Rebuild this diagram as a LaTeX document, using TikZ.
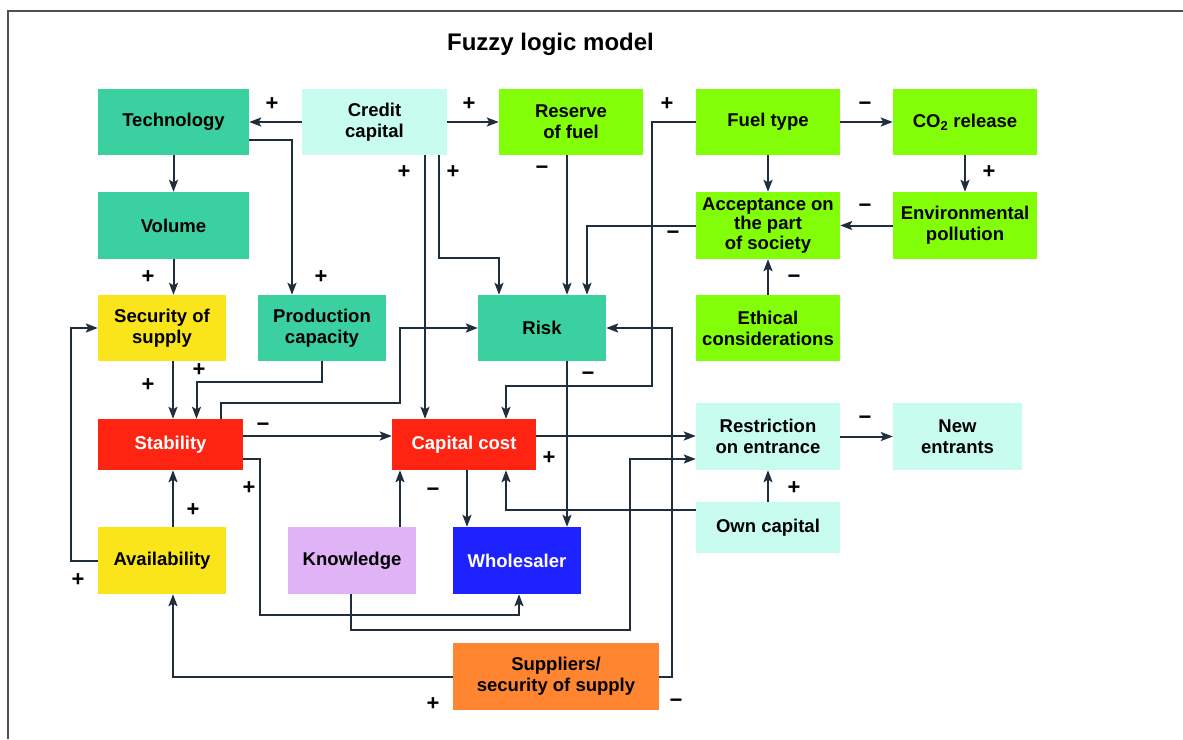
\documentclass[tikz,border=0pt]{standalone}
\usepackage{fontspec}
\setmainfont{Liberation Sans}
\usetikzlibrary{arrows.meta,calc}
\definecolor{cteal}{RGB}{59,208,160}
\definecolor{ccyan}{RGB}{200,252,238}
\definecolor{clime}{RGB}{130,255,8}
\definecolor{cyell}{RGB}{250,228,26}
\definecolor{cred}{RGB}{255,36,18}
\definecolor{clilac}{RGB}{224,179,247}
\definecolor{cblue}{RGB}{30,34,255}
\definecolor{corange}{RGB}{255,133,48}
\definecolor{cline}{RGB}{30,46,61}
\definecolor{cframe}{RGB}{80,80,80}
\newcommand{\boxfont}{\fontsize{18.5}{21}\selectfont\bfseries}
\begin{document}
\begin{tikzpicture}[x=1pt,y=-1pt,
  bx/.style n args={3}{rectangle, fill=#1, minimum width=#2, minimum height=#3,
    inner sep=2pt, align=center, font=\boxfont, text=black},
  wtxt/.style={text=white},
  arr/.style={draw=cline, line width=2pt, -{Stealth[length=12pt,width=9pt,inset=2.5pt]}},
  sgn/.style={font=\fontsize{22}{22}\selectfont\bfseries, inner sep=0pt},
  frame/.style={draw=cframe, line width=1.6pt}]
\useasboundingbox (0,0) rectangle (1183,739);
\draw[frame] (8,739) -- (8,11) -- (1183,11);
\node[font=\fontsize{24}{24}\selectfont\bfseries] (title) at (550.5,44) {Fuzzy logic model};

% nodes
\node[bx={cteal}{151pt}{66pt}] (tech) at (173.5,122) {Technology};
\node[bx={ccyan}{145pt}{66pt}] (credit) at (374.5,122) {Credit\\capital};
\node[bx={clime}{144pt}{66pt}] (reserve) at (571,122) {Reserve\\of fuel};
\node[bx={clime}{144pt}{66pt}] (fuel) at (768,122) {Fuel type};
\node[bx={clime}{144pt}{66pt}] (co2) at (965,122) {CO\textsubscript{2} release};
\node[bx={cteal}{151pt}{67pt}] (volume) at (173.5,225.5) {Volume};
\node[bx={clime}{144pt}{67pt}, font=\fontsize{18.5}{19.5}\selectfont\bfseries] (accept) at (768,225.5) {Acceptance on\\the part\\of society};
\node[bx={clime}{144pt}{67pt}] (env) at (965,225.5) {Environmental\\pollution};
\node[bx={cyell}{128pt}{66pt}] (security) at (162,328) {Security of\\supply};
\node[bx={cteal}{128pt}{66pt}] (prod) at (322,328) {Production\\capacity};
\node[bx={cteal}{128pt}{66pt}] (risk) at (542,328) {Risk};
\node[bx={clime}{144pt}{66pt}] (ethical) at (768,328) {Ethical\\considerations};
\node[bx={cred}{145pt}{51pt}, wtxt] (stability) at (170.5,444.5) {Stability};
\node[bx={cred}{144pt}{51pt}, wtxt] (capcost) at (464,444.5) {Capital cost};
\node[bx={ccyan}{144pt}{67pt}] (restr) at (768,436.5) {Restriction\\on entrance};
\node[bx={ccyan}{129pt}{67pt}] (newent) at (957.5,436.5) {New\\entrants};
\node[bx={ccyan}{144pt}{51pt}] (own) at (768,527.5) {Own capital};
\node[bx={cyell}{128pt}{67pt}] (avail) at (162,560.5) {Availability};
\node[bx={clilac}{128pt}{67pt}] (know) at (352,560.5) {Knowledge};
\node[bx={cblue}{128pt}{67pt}, wtxt] (whole) at (517,560.5) {Wholesaler};
\node[bx={corange}{206pt}{67pt}] (supp) at (556,676.5) {Suppliers/\\security of supply};

% connectors
\draw[arr] (credit.west) -- (tech.east);
\draw[arr] (credit.east) -- (reserve.west);
\draw[arr] (tech.south) -- (volume.north);
\draw[arr] ([yshift=-18pt]tech.east) -| ([xshift=-30pt]prod.north);
\draw[arr] (volume.south) -- (volume.south |- security.north);
\draw[arr] ([xshift=50.5pt]credit.south) -- ([xshift=50.5pt]credit.south |- capcost.north);
\draw[arr] ([xshift=64.5pt]credit.south) -- ++(0,102.5) -| ([xshift=-43pt]risk.north);
\draw[arr] ([xshift=25pt]risk.north |- reserve.south) -- ([xshift=25pt]risk.north);
\draw[arr] (accept.west) -| ([xshift=45pt]risk.north);
\draw[arr] (fuel.west) -- ++(-44,0) -- ++(0,264) -| ([xshift=42pt]capcost.north);
\draw[arr] (fuel.east) -- (co2.west);
\draw[arr] (fuel.south) -- (accept.north);
\draw[arr] (co2.south) -- (env.north);
\draw[arr] (env.west) -- (accept.east);
\draw[arr] (ethical.north) -- (accept.south);
\draw[arr] (supp.east) -- ++(13,0) |- (risk.east);
\draw[arr] ([xshift=50.5pt]stability.north) -- ++(0,-16) -- ++(179,0) |- (risk.west);
\draw[arr] ([xshift=11pt]security.south) -- ([xshift=11pt]security.south |- stability.north);
\draw[arr] (prod.south) -- ++(0,21) -| ([xshift=26pt]stability.north);
\draw[arr] ([yshift=8.5pt]stability.east) -- ([yshift=8.5pt]stability.east -| capcost.west);
\draw[arr] ([xshift=11pt]avail.north) -- ([xshift=11pt]avail.north |- stability.south);
\draw[arr] (avail.west) -- ++(-26.5,0) |- (security.west);
\draw[arr] ([yshift=-14.5pt]stability.east) -- ++(16.5,0) -- ++(0,156) -| ([xshift=2pt]whole.south);
\draw[arr] ([xshift=48pt]know.north) -- ([xshift=48pt]know.north |- capcost.south);
\draw[arr] ([xshift=-1pt]know.south) -- ++(0,36) -- ++(278.5,0) |- ([yshift=-22.5pt]restr.west);
\draw[arr] ([xshift=3pt]capcost.south) -- ([xshift=3pt]capcost.south |- whole.north);
\draw[arr] ([xshift=25pt]risk.south) -- ([xshift=25pt]risk.south |- whole.north);
\draw[arr] ([yshift=17.5pt]own.west) -| ([xshift=42pt]capcost.south);
\draw[arr] ([yshift=8.5pt]capcost.east) -- ([yshift=8.5pt]capcost.east -| restr.west);
\draw[arr] (own.north) -- (restr.south);
\draw[arr] (restr.east) -- (newent.west);
\draw[arr] (supp.west) -| ([xshift=11pt]avail.south);

% signs
\node[sgn] (s1) at (272,104) {+};
\node[sgn] (s2) at (469,104) {+};
\node[sgn] (s3) at (667,104) {+};
\node[sgn] (s4) at (865,106) {−};
\node[sgn] (s5) at (404,172) {+};
\node[sgn] (s6) at (453,172) {+};
\node[sgn] (s7) at (542,170) {−};
\node[sgn] (s8) at (989,172) {+};
\node[sgn] (s9) at (865,208) {−};
\node[sgn] (s10) at (673,235) {−};
\node[sgn] (s11) at (148,277) {+};
\node[sgn] (s12) at (321,277) {+};
\node[sgn] (s13) at (794,279) {−};
\node[sgn] (s14) at (199,370) {+};
\node[sgn] (s15) at (148,385) {+};
\node[sgn] (s16) at (588,376) {−};
\node[sgn] (s17) at (263,427) {−};
\node[sgn] (s18) at (865,420) {−};
\node[sgn] (s19) at (549,458) {+};
\node[sgn] (s20) at (249,488) {+};
\node[sgn] (s21) at (433,492) {−};
\node[sgn] (s22) at (794,488) {+};
\node[sgn] (s23) at (193,510) {+};
\node[sgn] (s24) at (78,580) {+};
\node[sgn] (s25) at (433,704) {+};
\node[sgn] (s26) at (676,703) {−};
\end{tikzpicture}
\end{document}
